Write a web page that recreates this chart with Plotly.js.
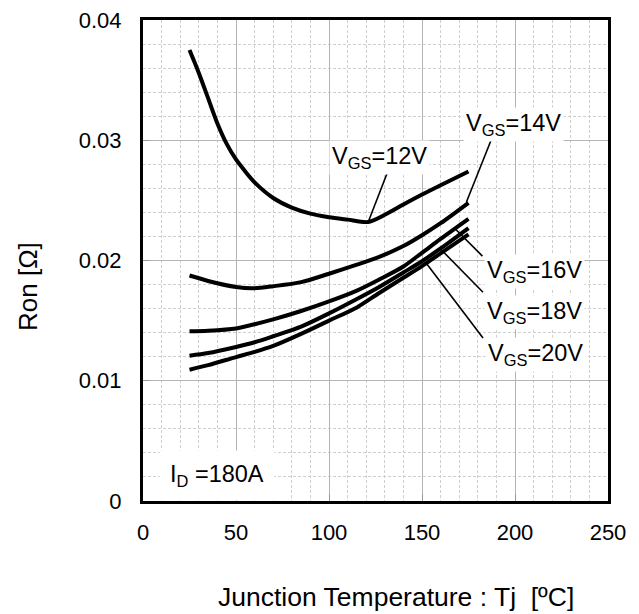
<!DOCTYPE html>
<html>
<head>
<meta charset="utf-8">
<script src="https://cdn.plot.ly/plotly-3.0.1.min.js"></script>
<style>html,body{margin:0;padding:0;background:#fff;}#chart{width:639px;height:614px;}</style>
</head>
<body>
<div id="chart"></div>
<script>
// Junction temperature (°C) sample points
const tj12 = [25, 30, 35, 40, 45, 50, 55, 60, 70, 80, 90, 100, 110, 121, 130, 140, 150, 160, 175];
const ron12 = [0.0375, 0.0356, 0.0335, 0.0314, 0.0297, 0.0284, 0.0274, 0.0265, 0.0252, 0.0244, 0.0239, 0.0236, 0.0234, 0.0232, 0.0238, 0.02465, 0.02548, 0.02626, 0.0274];

const tj = [25, 35, 50, 60, 70, 85, 100, 115, 127, 140, 150, 160, 175];
const ron14 = [0.01875, 0.0183, 0.0178, 0.0177, 0.01786, 0.0182, 0.0189, 0.01965, 0.0203, 0.0212, 0.0221, 0.0231, 0.0248];
const ron16 = [0.01411, 0.01416, 0.01435, 0.0147, 0.0151, 0.0158, 0.0166, 0.0175, 0.01842, 0.0195, 0.02064, 0.0218, 0.02347];
const ron18 = [0.01208, 0.0123, 0.01281, 0.0132, 0.0137, 0.0145, 0.0156, 0.0168, 0.0178, 0.0190, 0.01994, 0.0210, 0.0227];
const ron20 = [0.01092, 0.0113, 0.01197, 0.0124, 0.0129, 0.0139, 0.0150, 0.0161, 0.0173, 0.01856, 0.01953, 0.0206, 0.02217];

const seriesNames = ['V<sub>GS</sub>=12V', 'V<sub>GS</sub>=14V', 'V<sub>GS</sub>=16V', 'V<sub>GS</sub>=18V', 'V<sub>GS</sub>=20V'];

// Label placement: text position, leader line from (lx0,ly0) to (lx1,ly1)
const labelX = [127, 199, 210.7, 210.7, 211];
const labelY = [0.02858, 0.03133, 0.01908, 0.01567, 0.01217];
const leadX0 = [131.5, 187.5, 168.2, 160.2, 152.1];
const leadY0 = [0.02736, 0.03014, 0.02258, 0.02092, 0.01981];
const leadX1 = [121.3, 173.9, 182.5, 182.8, 182.8];
const leadY1 = [0.02328, 0.02486, 0.02036, 0.01736, 0.01356];

const xTicks = [0, 50, 100, 150, 200, 250];
const yTicks = [0, 0.01, 0.02, 0.03, 0.04];
const yTickText = ['0', '0.01', '0.02', '0.03', '0.04'];

const FONT = 'Liberation Sans, Arial, sans-serif';

const lineStyle = {color: '#000', width: 4, shape: 'spline', smoothing: 0.8};
const traces = [
  {x: tj12, y: ron12},
  {x: tj, y: ron14},
  {x: tj, y: ron16},
  {x: tj, y: ron18},
  {x: tj, y: ron20}
].map((d, i) => ({x: d.x, y: d.y, type: 'scatter', mode: 'lines', name: seriesNames[i], line: lineStyle, hoverinfo: 'skip'}));

const shapes = leadX0.map((x0, i) => ({
  type: 'line', xref: 'x', yref: 'y', x0: x0, y0: leadY0[i], x1: leadX1[i], y1: leadY1[i],
  line: {color: '#000', width: 1.6}
}));

const annotations = seriesNames.map((t, i) => ({
  x: labelX[i], y: labelY[i], xref: 'x', yref: 'y', text: t, showarrow: false,
  font: {family: FONT, size: 23.5, color: '#000'}, bgcolor: '#fff', borderpad: 2,
  xanchor: 'center', yanchor: 'middle'
}));
annotations.push({
  x: 40, y: 0.0021, xref: 'x', yref: 'y', text: 'I<sub>D</sub> =180A', showarrow: false,
  font: {family: FONT, size: 23.5, color: '#000'}, bgcolor: '#fff', borderpad: 10,
  xanchor: 'center', yanchor: 'middle'
});

const layout = {
  width: 639, height: 614,
  margin: {l: 143, r: 31, t: 20, b: 113},
  paper_bgcolor: '#fff', plot_bgcolor: '#fff',
  showlegend: false
};
const plotW = layout.width - layout.margin.l - layout.margin.r;
const plotH = layout.height - layout.margin.t - layout.margin.b;
const px2paperX = px => (px - layout.margin.l) / plotW;
const px2paperY = py => 1 - (py - layout.margin.t) / plotH;

// axis titles as annotations (pixel placement converted to paper fractions)
annotations.push({
  x: px2paperX(28), y: px2paperY(287), xref: 'paper', yref: 'paper', text: 'Ron [Ω]', showarrow: false, textangle: -90,
  font: {family: FONT, size: 26, color: '#000'}, xanchor: 'center', yanchor: 'middle'
});
annotations.push({
  x: px2paperX(396), y: px2paperY(597), xref: 'paper', yref: 'paper', text: 'Junction Temperature : Tj  [ºC]', showarrow: false,
  font: {family: FONT, size: 26.5, color: '#000'}, xanchor: 'center', yanchor: 'middle'
});

const axisCommon = {
  showline: true, mirror: true, linecolor: '#000', linewidth: 3,
  showgrid: true, gridcolor: '#b4b4b4', gridwidth: 1,
  zeroline: false, ticks: 'inside', ticklen: 7, tickcolor: '#999', tickwidth: 1,
  tickfont: {family: FONT, size: 22, color: '#000'}
};

layout.xaxis = Object.assign({}, axisCommon, {
  range: [0, 250], tickvals: xTicks, ticklabelstandoff: 10,
  minor: {dtick: 10, showgrid: true, gridcolor: '#cfcfcf', griddash: '3px,2px', gridwidth: 1}
});
layout.yaxis = Object.assign({}, axisCommon, {
  range: [0, 0.04], tickvals: yTicks, ticktext: yTickText, ticklabelstandoff: 14,
  minor: {dtick: 0.002, showgrid: true, gridcolor: '#cfcfcf', griddash: '3px,2px', gridwidth: 1}
});
layout.shapes = shapes;
layout.annotations = annotations;

Plotly.newPlot('chart', traces, layout, {displayModeBar: false, staticPlot: true});
</script>
</body>
</html>
